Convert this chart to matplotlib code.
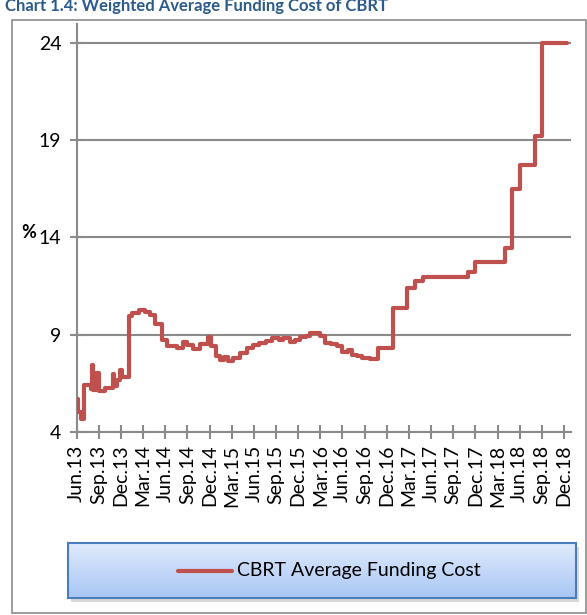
import matplotlib
matplotlib.use("Agg")
import matplotlib.pyplot as plt
import numpy as np
from matplotlib.patches import Rectangle

plt.rcParams['font.family'] = ['Lato', 'DejaVu Sans']

# ---- data ----
tick_labels = ["Jun.13", "Sep.13", "Dec.13", "Mar.14", "Jun.14", "Sep.14", "Dec.14",
               "Mar.15", "Jun.15", "Sep.15", "Dec.15", "Mar.16", "Jun.16", "Sep.16",
               "Dec.16", "Mar.17", "Jun.17", "Sep.17", "Dec.17", "Mar.18", "Jun.18",
               "Sep.18", "Dec.18"]
# months since Jun.13 where the funding cost changes
months = [0.0, 0.2, 0.55, 1.0, 1.9, 2.05, 2.25, 2.6, 3.0, 3.9,
          4.85, 5.1, 5.5, 5.9, 6.2, 7.05, 7.5, 8.4, 9.3, 9.9,
          10.6, 11.5, 12.2, 13.6, 14.4, 15.0, 15.8, 16.7, 17.75, 18.2,
          18.8, 19.4, 20.0, 20.5, 21.2, 22.1, 23.0, 23.9, 24.7, 25.6,
          26.5, 27.4, 28.0, 28.9, 29.6, 30.2, 31.0, 31.6, 32.9, 33.6,
          34.4, 35.2, 36.0, 36.7, 37.3, 38.0, 38.6, 39.7, 40.8, 42.8,
          44.8, 45.8, 46.9, 53.0, 54.0, 58.0, 59.0, 60.0, 62.1, 63.0,
          66.4]
funding_cost = [5.7, 5.05, 4.65, 6.4, 6.2, 7.45, 6.15, 7.05, 6.1, 6.25,
                7.0, 6.35, 6.65, 7.2, 6.85, 9.95, 10.1, 10.25, 10.15, 10.0,
                9.55, 8.75, 8.4, 8.3, 8.65, 8.45, 8.25, 8.5, 8.9, 8.4,
                7.9, 7.7, 7.85, 7.65, 7.8, 8.05, 8.3, 8.45, 8.55, 8.7,
                8.85, 8.75, 8.85, 8.65, 8.75, 8.9, 8.95, 9.08, 8.95, 8.6,
                8.5, 8.4, 8.1, 8.2, 7.98, 7.9, 7.8, 7.75, 8.3, 10.35,
                11.4, 11.75, 11.95, 12.25, 12.75, 13.45, 16.5, 17.75, 19.2, 24.0,
                24.0]
y_ticks = [4, 9, 14, 19, 24]
series_name = "CBRT Average Funding Cost"
title = "Chart 1.4: Weighted Average Funding Cost of CBRT"

W, H = 587, 615
fig = plt.figure(figsize=(W / 100, H / 100), dpi=100)

def fx(px):
    return px / W

def fy(py):
    return 1 - py / H

# outer frame
fig.patches.append(Rectangle((fx(12), fy(613)), fx(586) - fx(12), fy(20) - fy(613),
                             transform=fig.transFigure, fill=False,
                             edgecolor='#8c8c8c', linewidth=1.2, zorder=0))

# title (partially cut at the top)
fig.text(fx(5), fy(11), title, fontsize=12, fontweight='bold', color='#2b5a8c',
         ha='left', va='baseline')

line_color = '#C0504D'
grid_color = '#8a8a8a'

ax = fig.add_axes([fx(76.7), fy(432), fx(571) - fx(76.7), fy(23.5) - fy(432)])
ax.step(months, funding_cost, where='post', color=line_color, linewidth=3.0,
        solid_joinstyle='round', solid_capstyle='round', zorder=3)
ax.set_xlim(0, 66.95)
ax.set_ylim(4, 25)
ax.set_yticks(y_ticks)
ax.set_yticklabels([str(v) for v in y_ticks])
ax.set_xticks(np.arange(len(tick_labels)) * 3)
ax.set_xticklabels(tick_labels, rotation=90)
ax.yaxis.grid(True, color=grid_color, linewidth=1.5)
ax.set_axisbelow(True)
for s in ['top', 'right']:
    ax.spines[s].set_visible(False)
for s in ['left', 'bottom']:
    ax.spines[s].set_color(grid_color)
    ax.spines[s].set_linewidth(1.5)
ax.tick_params(axis='both', direction='inout', length=10, width=1.5,
               color=grid_color, labelsize=14, labelcolor='black')
ax.tick_params(axis='y', pad=6)
ax.tick_params(axis='x', pad=4)

fig.text(fx(29), fy(233), "%", fontsize=13, fontweight='bold', ha='center', va='center')

# legend box with gradient + shadow
lx0, lx1, ly0, ly1 = 68.4, 576, 543, 598
fig.patches.append(Rectangle((fx(lx0 + 3), fy(ly1 + 4)), fx(lx1 - lx0), fy(ly0) - fy(ly1),
                             transform=fig.transFigure, facecolor='#bfbfbf',
                             edgecolor='none', alpha=0.6, zorder=1))
lax = fig.add_axes([fx(lx0), fy(ly1), fx(lx1) - fx(lx0), fy(ly0) - fy(ly1)], zorder=2)
grad = np.linspace(0, 1, 100).reshape(-1, 1)
top = np.array([0.88, 0.92, 0.99])
bot = np.array([0.66, 0.78, 0.96])
img = top[None, None, :] * (1 - grad[:, :, None]) + bot[None, None, :] * grad[:, :, None]
lax.imshow(img, aspect='auto', extent=[0, 1, 0, 1], origin='upper')
lax.set_xlim(0, 1)
lax.set_ylim(0, 1)
lax.set_xticks([])
lax.set_yticks([])
for s in lax.spines.values():
    s.set_color('#4a7ebb')
    s.set_linewidth(1.5)
xa = (177.6 - lx0) / (lx1 - lx0)
xb = (232 - lx0) / (lx1 - lx0)
yc = (ly1 - 570.6) / (ly1 - ly0)
lax.plot([xa, xb], [yc, yc], color=line_color, linewidth=3.0, solid_capstyle='round')
lax.text((237 - lx0) / (lx1 - lx0), yc, series_name, fontsize=14, ha='left',
         va='center', color='black')

fig.savefig("out.png", dpi=100)
